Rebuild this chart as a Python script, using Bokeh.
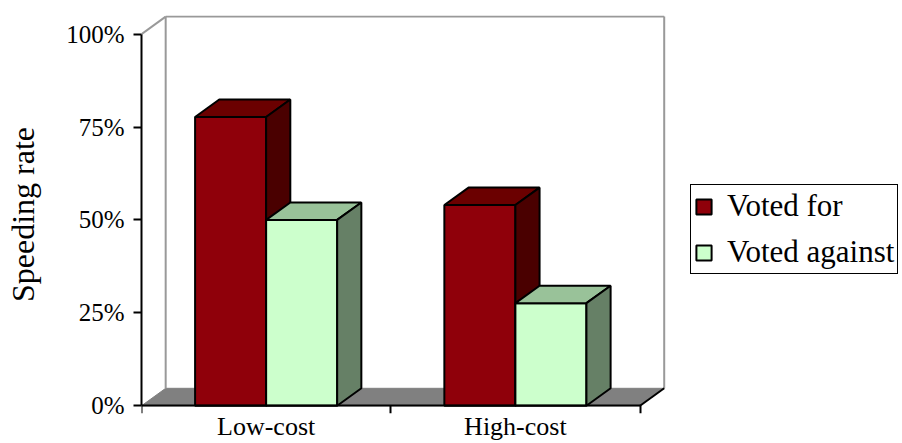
from bokeh.plotting import figure
from bokeh.models import Range1d, FixedTicker, Legend, LegendItem, LinearAxis
from bokeh.embed import file_html
from bokeh.resources import INLINE

# ---- data ----
categories = ["Low-cost", "High-cost"]
series_names = ["Voted for", "Voted against"]
voted_for = [77.7, 54.0]
voted_against = [50.0, 27.6]
y_ticks = [0, 25, 50, 75, 100]
y_tick_labels = ["0%", "25%", "50%", "75%", "100%"]
y_title = "Speeding rate"

# ---- style ----
FONT = "Liberation Serif"
DX, DY = 0.097, 4.7        # 3D depth offsets (x units, y units)
BAR_W = 0.285
X_END = 3.053              # frame extends right to hold the legend
Y_START, Y_END = -2.08, 105.0
face_colors = {
    "Voted for": ("#8f000a", "#6b0000", "#4a0000"),
    "Voted against": ("#ccffcc", "#99c299", "#668066"),
}

n = len(categories)
ymax = y_ticks[-1]

p = figure(width=902, height=443, output_backend="svg", toolbar_location=None,
           x_range=Range1d(0, X_END), y_range=Range1d(Y_START, Y_END),
           min_border_left=141, min_border_right=0, min_border_top=15,
           min_border_bottom=0)
p.xgrid.grid_line_color = None
p.ygrid.grid_line_color = None
p.outline_line_color = None

# floor
p.patch(x=[0, n, n + DX, DX], y=[0, 0, DY, DY], fill_color="#808080",
        line_color="#808080", line_width=1)
# walls
p.multi_line(xs=[[0, DX], [DX, DX], [DX, n + DX], [n + DX, n + DX]],
             ys=[[ymax, ymax + DY], [DY, ymax + DY], [ymax + DY, ymax + DY], [ymax + DY, DY]],
             line_color="#999999", line_width=2)
p.line(x=[n, n + DX], y=[0, DY], line_color="black", line_width=2)

front_renderers = []
for j, (name, vals) in enumerate(zip(series_names, [voted_for, voted_against])):
    fx, fy, tx, ty, sx, sy = [], [], [], [], [], []
    for i, v in enumerate(vals):
        x0 = i + 0.5 - BAR_W + j * BAR_W
        x1 = x0 + BAR_W
        fx.append([x0, x1, x1, x0]); fy.append([0, 0, v, v])
        tx.append([x0, x1, x1 + DX, x0 + DX]); ty.append([v, v, v + DY, v + DY])
        sx.append([x1, x1 + DX, x1 + DX, x1]); sy.append([0, DY, v + DY, v])
    c_front, c_top, c_side = face_colors[name]
    r = p.patches(fx, fy, fill_color=c_front, line_color="black", line_width=2)
    p.patches(tx, ty, fill_color=c_top, line_color="black", line_width=2)
    p.patches(sx, sy, fill_color=c_side, line_color="black", line_width=2)
    front_renderers.append(r)

# y axis
ya = p.yaxis[0]
ya.ticker = FixedTicker(ticks=y_ticks)
ya.major_label_overrides = dict(zip(y_ticks, y_tick_labels))
ya.bounds = (0, ymax)
ya.axis_line_width = 2
ya.major_tick_line_width = 2
ya.major_tick_out = 8
ya.major_tick_in = 0
ya.minor_tick_line_color = None
ya.major_label_standoff = 9
ya.major_label_text_font = FONT
ya.major_label_text_font_size = "25px"
ya.major_label_text_color = "black"
ya.axis_label = y_title
ya.axis_label_text_font = FONT
ya.axis_label_text_font_size = "32px"
ya.axis_label_text_font_style = "normal"
ya.axis_label_text_color = "black"
ya.axis_label_standoff = 22

# x axis line and ticks, drawn at y = 0
xa = p.xaxis[0]
centers = [i + 0.5 for i in range(n)]
xa.fixed_location = 0
xa.ticker = FixedTicker(ticks=[], minor_ticks=list(range(n + 1)))
xa.bounds = (0, n)
xa.axis_line_width = 2
xa.major_tick_line_color = None
xa.minor_tick_out = 8
xa.minor_tick_in = 0
xa.minor_tick_line_width = 2
xa.minor_tick_line_color = "black"
xa.axis_label_standoff = 0

# category labels
lab = LinearAxis(ticker=FixedTicker(ticks=centers),
                 major_label_overrides=dict(zip(centers, categories)),
                 axis_line_color=None, major_tick_line_color=None, minor_tick_line_color=None,
                 major_tick_out=0, major_tick_in=0, minor_tick_out=0, minor_tick_in=0,
                 major_label_standoff=-2, axis_label_standoff=0,
                 major_label_text_font=FONT, major_label_text_font_size="26px",
                 major_label_text_color="black")
p.add_layout(lab, "below")

legend = Legend(items=[LegendItem(label=nm, renderers=[r]) for nm, r in zip(series_names, front_renderers)],
                location=(549, 139), margin=0, padding=3, spacing=10,
                glyph_width=19, glyph_height=19, label_standoff=14, label_height=33,
                label_text_font=FONT, label_text_font_size="31px", label_text_color="black",
                border_line_color="black", border_line_width=1.5, border_line_alpha=1.0,
                background_fill_alpha=1.0)
p.add_layout(legend, "center")

open("out.html", "w").write(file_html(p, INLINE))
